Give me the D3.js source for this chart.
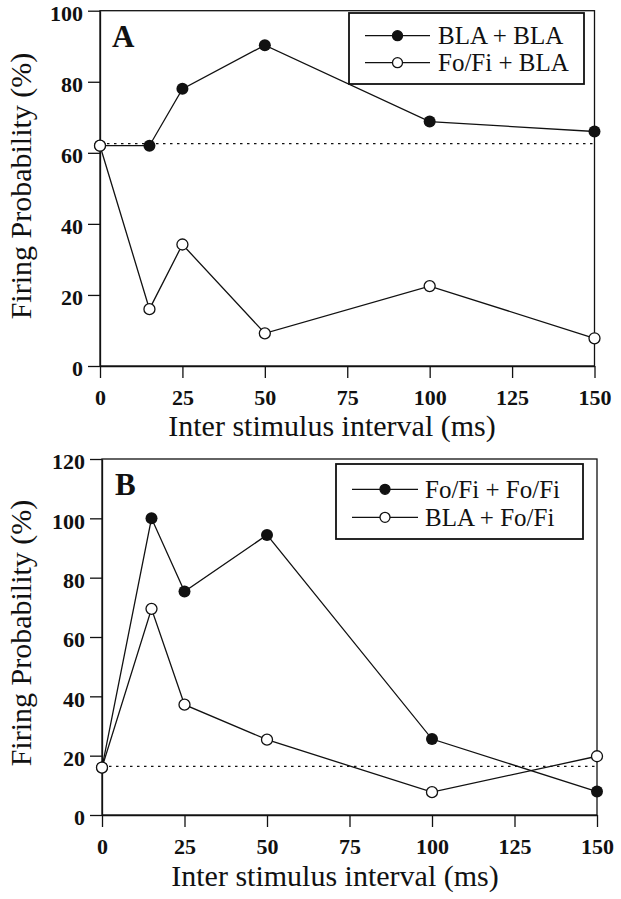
<!DOCTYPE html>
<html>
<head>
<meta charset="utf-8">
<script src="https://cdn.jsdelivr.net/npm/d3@7"></script>
<style>
  html, body { margin: 0; padding: 0; background: #fff; }
  svg { display: block; }
  text { font-family: "Liberation Serif", "Times New Roman", Times, "DejaVu Serif", serif; fill: #111; }
</style>
</head>
<body>
<svg id="chart" width="621" height="899"></svg>
<script>
// ---- data ----
const intervals = [0, 15, 25, 50, 100, 150];
const xTicks = [0, 25, 50, 75, 100, 125, 150];

const aSeriesNames = ["BLA + BLA", "Fo/Fi + BLA"];
const aBlaBla   = [62, 62, 78, 90.3, 68.8, 66];
const aFoFiBla  = [62, 16, 34.2, 9.2, 22.5, 7.8];
const aYTicks = [0, 20, 40, 60, 80, 100];
const aBaseline = 62.6;

const bSeriesNames = ["Fo/Fi + Fo/Fi", "BLA + Fo/Fi"];
const bFoFiFoFi = [16, 100, 75.3, 94.4, 25.6, 7.9];
const bBlaFoFi  = [16, 69.5, 37.2, 25.4, 7.7, 19.8];
const bYTicks = [0, 20, 40, 60, 80, 100, 120];
const bBaseline = 16.4;

const xTitle = "Inter stimulus interval (ms)";
const yTitle = "Firing Probability (%)";

// ---- drawing ----
const svg = d3.select("#chart");
const ink = "#111";
const serif = '"Liberation Serif", "Times New Roman", Times, "DejaVu Serif", serif';

function panel(cfg) {
  const x = d3.scaleLinear().domain([0, 150]).range(cfg.xr);
  const y = d3.scaleLinear().domain([0, cfg.ymax]).range(cfg.yr);
  const g = svg.append("g");

  // frame
  g.append("rect")
    .attr("x", x(0)).attr("y", y(cfg.ymax))
    .attr("width", x(150) - x(0)).attr("height", y(0) - y(cfg.ymax))
    .attr("fill", "none").attr("stroke", ink).attr("stroke-width", 1.3);

  // axes
  const xa = g.append("g").attr("transform", `translate(0,${y(0)})`)
    .call(d3.axisBottom(x).tickValues(xTicks).tickSize(12).tickPadding(11).tickSizeOuter(0));
  const ya = g.append("g").attr("transform", `translate(${x(0)},0)`)
    .call(d3.axisLeft(y).tickValues(cfg.yticks).tickSize(12).tickPadding(5).tickSizeOuter(0));
  [xa, ya].forEach(a => {
    a.attr("font-family", serif);
    a.select(".domain").attr("stroke", ink).attr("stroke-width", 1.3);
    a.selectAll(".tick line").attr("stroke", ink).attr("stroke-width", 1.3);
    a.selectAll(".tick text").style("font-family", serif)
      .style("font-weight", "bold").style("font-size", "22px").attr("fill", ink);
  });
  ya.selectAll(".tick text").attr("dy", "0.45em");

  // dotted baseline
  g.append("line")
    .attr("x1", x(0)).attr("x2", x(150))
    .attr("y1", y(cfg.baseline)).attr("y2", y(cfg.baseline))
    .attr("stroke", ink).attr("stroke-width", 1.3).attr("stroke-dasharray", "2.5,4.5");

  const line = d3.line().x((d, i) => x(intervals[i])).y(d => y(d));
  [cfg.filled, cfg.open].forEach(s => {
    g.append("path").datum(s).attr("d", line)
      .attr("fill", "none").attr("stroke", ink).attr("stroke-width", 1.3);
  });
  g.selectAll(".fm").data(cfg.filled).enter().append("circle")
    .attr("cx", (d, i) => x(intervals[i])).attr("cy", d => y(d)).attr("r", 6)
    .attr("fill", ink);
  g.selectAll(".om").data(cfg.open).enter().append("circle")
    .attr("cx", (d, i) => x(intervals[i])).attr("cy", d => y(d)).attr("r", 5.5)
    .attr("fill", "#fff").attr("stroke", ink).attr("stroke-width", 1.3);

  // panel letter
  g.append("text").attr("x", cfg.letterPos[0]).attr("y", cfg.letterPos[1])
    .style("font-weight", "bold").style("font-size", "31px").text(cfg.letter);

  // legend
  const L = cfg.legend;
  g.append("rect").attr("x", L.x).attr("y", L.y).attr("width", L.w).attr("height", L.h)
    .attr("fill", "#fff").attr("stroke", ink).attr("stroke-width", 1.8);
  cfg.names.forEach((name, i) => {
    const cy = L.row0 + i * L.rowGap;
    g.append("line").attr("x1", L.lx1).attr("x2", L.lx2).attr("y1", cy).attr("y2", cy)
      .attr("stroke", ink).attr("stroke-width", 1.3);
    g.append("circle").attr("cx", (L.lx1 + L.lx2) / 2).attr("cy", cy).attr("r", 5)
      .attr("fill", i === 0 ? ink : "#fff").attr("stroke", ink).attr("stroke-width", 1.3);
    g.append("text").attr("x", L.tx).attr("y", cy + 8.5)
      .style("font-size", "25px").text(name);
  });

  // axis titles
  g.append("text").attr("x", cfg.xTitlePos[0]).attr("y", cfg.xTitlePos[1])
    .attr("text-anchor", "middle").style("font-size", "30px").text(xTitle);
  g.append("text").attr("transform", `translate(31,${cfg.yTitleCy}) rotate(-90)`)
    .attr("text-anchor", "middle").style("font-size", "30px").text(yTitle);
}

panel({
  xr: [100, 594.5], yr: [366, 10.7], ymax: 100, yticks: aYTicks, baseline: aBaseline,
  filled: aBlaBla, open: aFoFiBla, names: aSeriesNames, letter: "A", letterPos: [112, 47],
  legend: { x: 349, y: 13, w: 235, h: 71, row0: 35.7, rowGap: 27, lx1: 365, lx2: 430, tx: 438 },
  xTitlePos: [332, 436], yTitleCy: 186
});

panel({
  xr: [102, 597], yr: [815, 459], ymax: 120, yticks: bYTicks, baseline: bBaseline,
  filled: bFoFiFoFi, open: bBlaFoFi, names: bSeriesNames, letter: "B", letterPos: [115, 495],
  legend: { x: 336, y: 464, w: 247, h: 75, row0: 489.3, rowGap: 28, lx1: 352, lx2: 418, tx: 425 },
  xTitlePos: [335, 886], yTitleCy: 633
});
</script>
</body>
</html>
